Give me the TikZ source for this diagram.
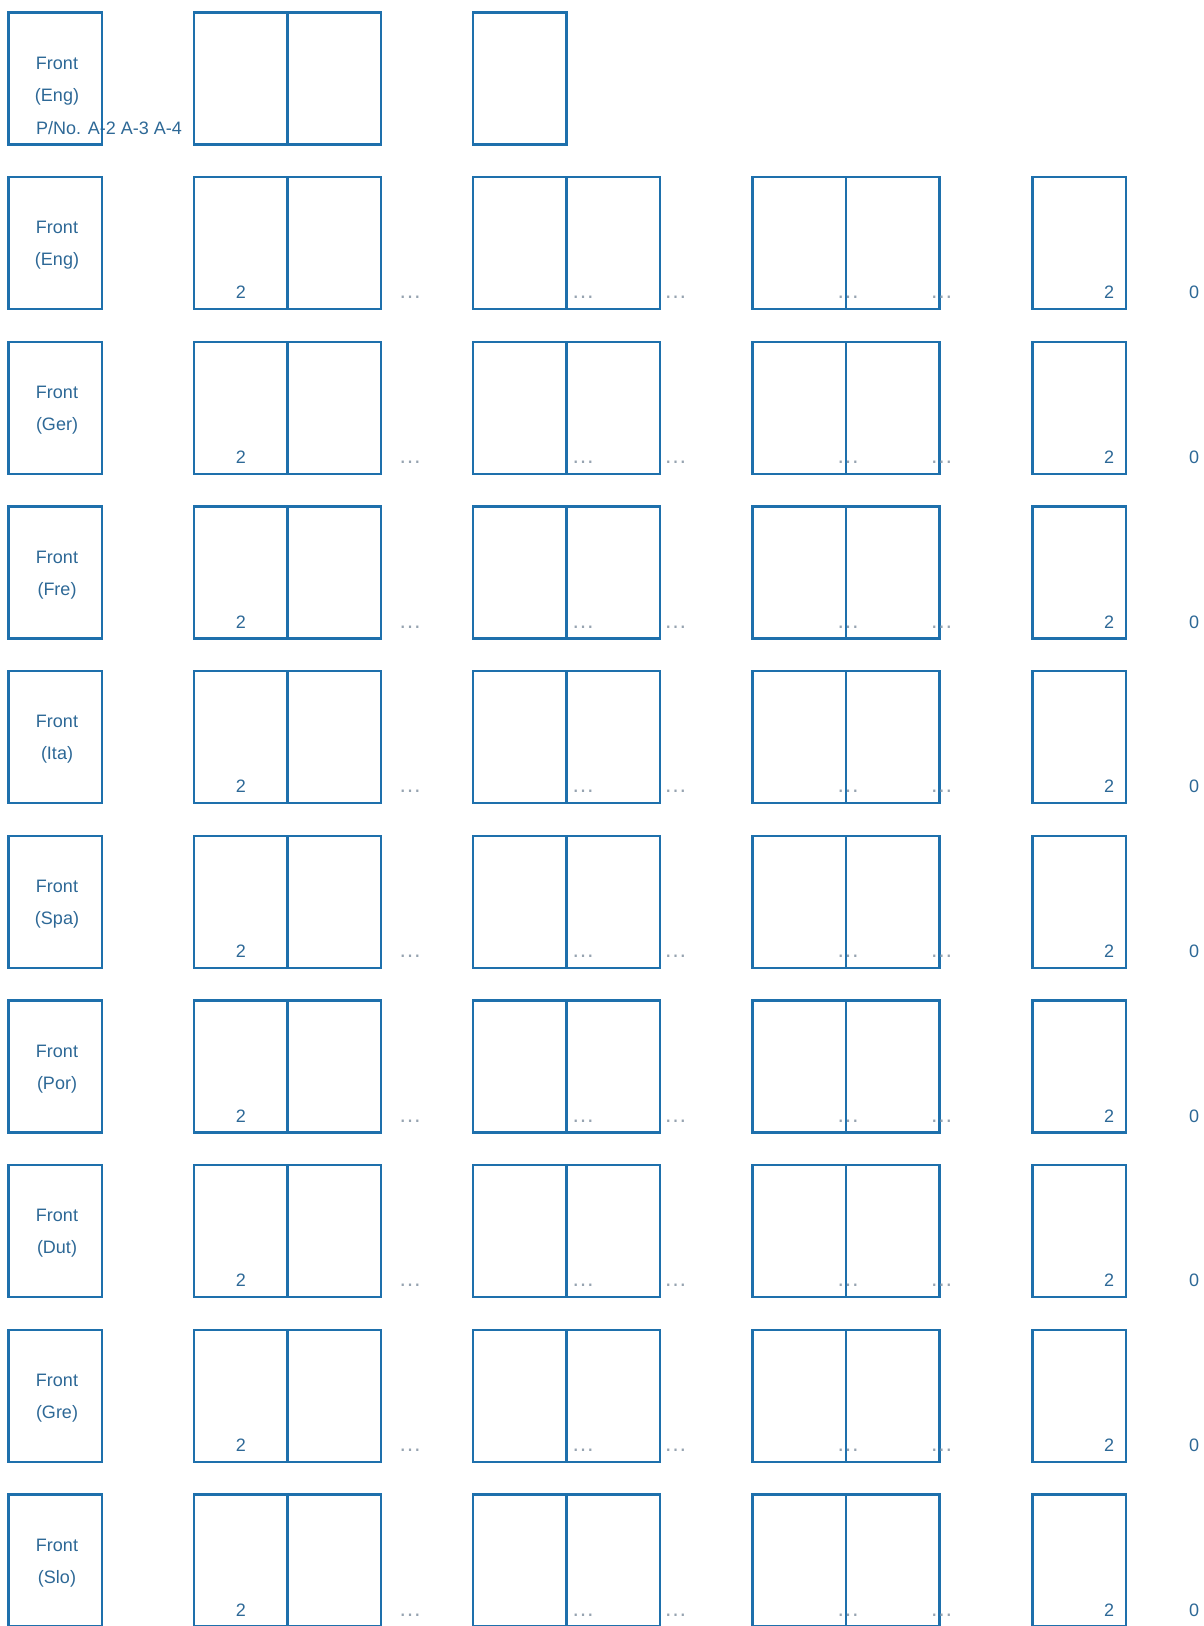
\documentclass[tikz,border=0pt]{standalone}
\usepackage{fontspec}
\setmainfont{Liberation Sans}
\definecolor{lineblue}{RGB}{30,112,172}
\definecolor{textblue}{RGB}{45,104,150}
\definecolor{dotgray}{RGB}{150,163,176}
\begin{document}
\begin{tikzpicture}[x=1pt,y=-1pt,
  pagebox/.style={draw=lineblue, line width=2.4pt, minimum width=93.5pt, minimum height=132pt, inner sep=0pt, outer sep=0pt, anchor=north west},
  lbl/.style={text=textblue, font=\fontsize{18}{21}\selectfont, inner sep=0pt, anchor=base},
  dotlbl/.style={text=dotgray, font=\fontsize{23}{26}\selectfont, inner sep=0pt, anchor=base}]
\useasboundingbox (0,0) rectangle (1204,1626);
% first row
\node[pagebox] (f0) at (8.3,12.3) {};
\node[pagebox] (a0) at (194,12.3) {};
\node[pagebox] (b0) at (287.5,12.3) {};
\node[pagebox] (c0) at (473,12.3) {};
\node[lbl] (ft0) at (57,69) {Front};
\node[lbl] (fl0) at (57,101) {(Eng)};
\node[lbl, anchor=base west] (pn0) at (36,134) {P/No. A-2 A-3 A-4};
% other rows
\foreach \lang [count=\i from 1] in {Eng,Ger,Fre,Ita,Spa,Por,Dut,Gre,Slo} {
  \pgfmathsetmacro\t{12.3+\i*164.7}
  \node[pagebox] (f\i) at (8.3,\t) {};
  \node[pagebox] (a\i) at (194,\t) {};
  \node[pagebox] (b\i) at (287.5,\t) {};
  \node[pagebox] (c\i) at (473,\t) {};
  \node[pagebox] (d\i) at (566.5,\t) {};
  \node[pagebox] (e\i) at (752.5,\t) {};
  \node[pagebox] (g\i) at (846,\t) {};
  \node[pagebox] (h\i) at (1032.3,\t) {};
  \node[lbl] (ft\i) at (57,\t+56.7) {Front};
  \node[lbl] (fl\i) at (57,\t+88.7) {(\lang)};
  \node[lbl] (na\i) at (240.8,\t+121.7) {2};
  \node[dotlbl] (da\i) at (410,\t+121.7) {…};
  \node[dotlbl] (db\i) at (583,\t+121.7) {…};
  \node[dotlbl] (dc\i) at (675.7,\t+121.7) {…};
  \node[dotlbl] (dd\i) at (848,\t+121.7) {…};
  \node[dotlbl] (de\i) at (941.7,\t+121.7) {…};
  \node[lbl] (nh\i) at (1109,\t+121.7) {2};
  \node[lbl] (nz\i) at (1194,\t+121.7) {0};
}
\end{tikzpicture}
\end{document}
